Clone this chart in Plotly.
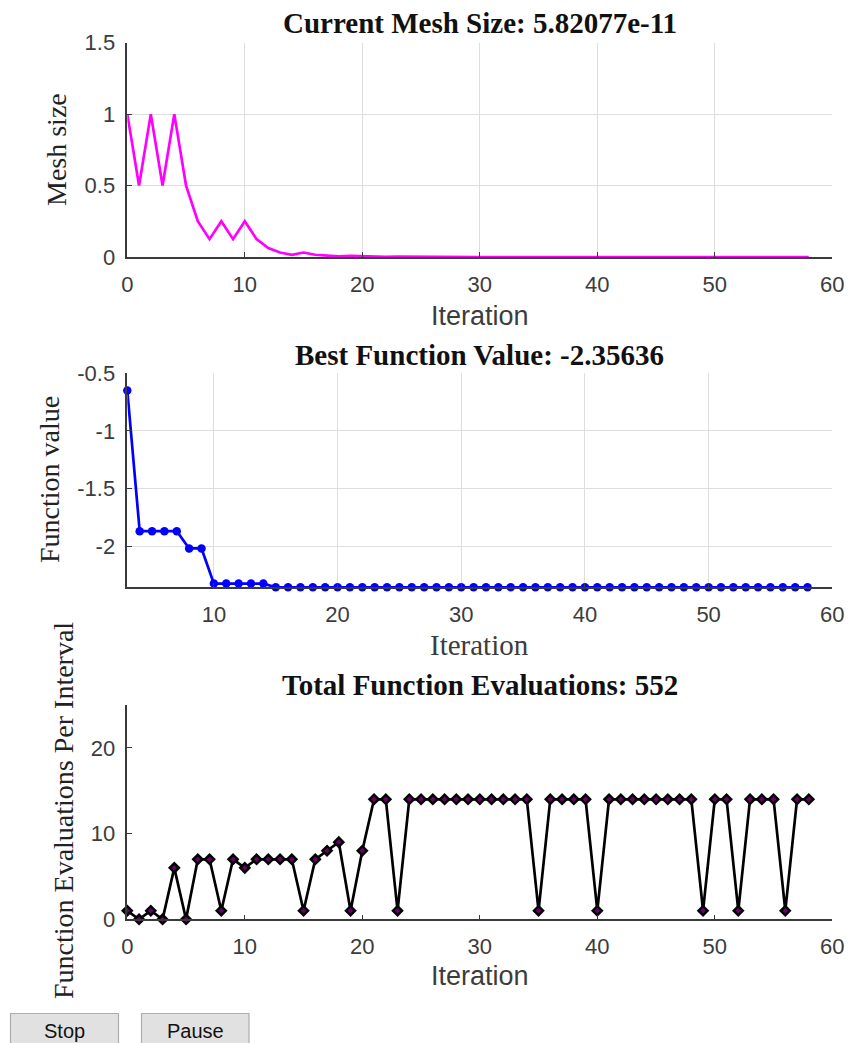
import plotly.graph_objects as go

# ---------------- data ----------------
iterations = list(range(0, 59))
mesh_size = [1, 0.5, 1, 0.5, 1, 0.5, 0.25, 0.125, 0.25, 0.125,
             0.25, 0.125, 0.0625, 0.03125, 0.015625, 0.03125, 0.015625, 0.0078125, 0.00390625, 0.0078125,
             0.00390625, 0.001953125, 0.0009765625, 0.001953125, 0.0009765625, 4.8828e-4, 2.4414e-4, 1.2207e-4, 6.1035e-5, 3.0518e-5,
             1.5259e-5, 7.6294e-6, 3.8147e-6, 1.9073e-6, 9.5367e-7, 1.9073e-6, 9.5367e-7, 4.7684e-7, 2.3842e-7, 1.1921e-7,
             2.3842e-7, 1.1921e-7, 5.9605e-8, 2.9802e-8, 1.4901e-8, 7.4506e-9, 3.7253e-9, 1.8626e-9, 9.3132e-10, 1.8626e-9,
             9.3132e-10, 4.6566e-10, 9.3132e-10, 4.6566e-10, 2.3283e-10, 1.1642e-10, 2.3283e-10, 1.1642e-10, 5.82077e-11]

best_iter = list(range(3, 59))
best_value = [-0.65, -1.87, -1.87, -1.87, -1.87, -2.02, -2.02,
              -2.325, -2.325, -2.325, -2.325, -2.325] + [-2.35636] * 44

func_evals = [1, 0, 1, 0, 6, 0, 7, 7, 1, 7,
              6, 7, 7, 7, 7, 1, 7, 8, 9, 1,
              8, 14, 14, 1, 14, 14, 14, 14, 14, 14,
              14, 14, 14, 14, 14, 1, 14, 14, 14, 14,
              1, 14, 14, 14, 14, 14, 14, 14, 14, 1,
              14, 14, 1, 14, 14, 14, 1, 14, 14]

x_ticks = [0, 10, 20, 30, 40, 50, 60]
mesh_ticks = [0, 0.5, 1, 1.5]
mesh_ticktext = ["0", "0.5", "1", "1.5"]
best_ticks = [-2, -1.5, -1, -0.5]
best_ticktext = ["-2", "-1.5", "-1", "-0.5"]
eval_ticks = [0, 10, 20]

titles = ["Current Mesh Size: 5.82077e-11",
          "Best Function Value: -2.35636",
          "Total Function Evaluations: 552"]

# ---------------- layout helpers ----------------
W, H = 851, 1043
def fx(p):
    return p / W
def fy(p):
    return 1 - p / H

SANS = "Liberation Sans, Arial, sans-serif"
SERIF = "Liberation Serif, Times New Roman, serif"
TICKCOL = "#3c3c3c"
AXCOL = "#3a3a3a"
GRIDCOL = "#dedede"

xdom = [fx(127.3), fx(832.3)]

fig = go.Figure()

fig.add_trace(go.Scatter(x=iterations, y=mesh_size, mode="lines",
                         line=dict(color="#ff00ff", width=2.7),
                         xaxis="x", yaxis="y", showlegend=False))
fig.add_trace(go.Scatter(x=best_iter, y=best_value, mode="lines+markers",
                         line=dict(color="#0000ff", width=2.7),
                         marker=dict(symbol="circle", size=8.5, color="#0000ff"),
                         xaxis="x2", yaxis="y2", showlegend=False, cliponaxis=False))
fig.add_trace(go.Scatter(x=iterations, y=func_evals, mode="lines+markers",
                         line=dict(color="#000000", width=2.7),
                         marker=dict(symbol="diamond", size=7, color="#6a006a",
                                     line=dict(color="#000000", width=2.5)),
                         xaxis="x3", yaxis="y3", showlegend=False, cliponaxis=False))

common_x = dict(showline=True, linecolor=AXCOL, linewidth=1.5, ticks="inside",
                ticklen=5, tickcolor=AXCOL, tickwidth=1.2,
                tickfont=dict(family=SANS, size=22, color=TICKCOL),
                zeroline=False, domain=xdom, tickvals=x_ticks,
                ticklabelstandoff=7, ticklabeloverflow="allow")
common_y = dict(showline=True, linecolor=AXCOL, linewidth=1.5, ticks="inside",
                ticklen=5, tickcolor=AXCOL, tickwidth=1.2,
                tickfont=dict(family=SANS, size=22, color=TICKCOL),
                zeroline=False, ticklabelstandoff=6, ticklabeloverflow="allow")

fig.update_layout(
    autosize=True, margin=dict(l=0, r=0, t=0, b=0, autoexpand=False),
    paper_bgcolor="white", plot_bgcolor="white",
    xaxis=dict(common_x, range=[0, 60], anchor="y", showgrid=True,
               gridcolor=GRIDCOL, gridwidth=1),
    yaxis=dict(common_y, range=[0, 1.5], anchor="x", domain=[fy(257), fy(42.7)],
               tickvals=mesh_ticks, ticktext=mesh_ticktext, showgrid=True,
               gridcolor=GRIDCOL, gridwidth=1),
    xaxis2=dict(common_x, range=[3, 60], anchor="y2", showgrid=True,
                gridcolor=GRIDCOL, gridwidth=1, tickvals=x_ticks[1:]),
    yaxis2=dict(common_y, range=[-2.357, -0.5], anchor="x2", domain=[fy(587.3), fy(373.3)],
                tickvals=best_ticks, ticktext=best_ticktext, showgrid=True,
                gridcolor=GRIDCOL, gridwidth=1),
    xaxis3=dict(common_x, range=[0, 60], anchor="y3", showgrid=False),
    yaxis3=dict(common_y, range=[0, 25], anchor="x3", domain=[fy(919.3), fy(705)],
                tickvals=eval_ticks, showgrid=False),
)

ann = []
cx = fx(479.8)
for t, yc in zip(titles, [23, 355, 685]):
    ann.append(dict(text="<b>%s</b>" % t, x=cx, y=fy(yc), xref="paper", yref="paper",
                    xanchor="center", yanchor="middle", showarrow=False,
                    font=dict(family=SERIF, size=29, color="#111111")))
# x axis titles
ann.append(dict(text="Iteration", x=cx, y=fy(316), xref="paper", yref="paper",
                xanchor="center", yanchor="middle", showarrow=False,
                font=dict(family=SANS, size=27, color=TICKCOL)))
ann.append(dict(text="Iteration", x=cx, y=fy(645), xref="paper", yref="paper",
                xanchor="center", yanchor="middle", showarrow=False,
                font=dict(family=SERIF, size=29, color=TICKCOL)))
ann.append(dict(text="Iteration", x=cx, y=fy(976), xref="paper", yref="paper",
                xanchor="center", yanchor="middle", showarrow=False,
                font=dict(family=SANS, size=27, color=TICKCOL)))
# y axis titles
for t, xc, yc in [("Mesh size", 57, 150), ("Function value", 49, 480),
                  ("Function Evaluations Per Interval", 63, 811)]:
    ann.append(dict(text=t, x=fx(xc), y=fy(yc), xref="paper", yref="paper",
                    xanchor="center", yanchor="middle", textangle=-90, showarrow=False,
                    font=dict(family=SERIF, size=28, color="#222222")))
# buttons
shapes = []
for label, x0, x1 in [("Stop", 10.5, 118.5), ("Pause", 141.5, 249)]:
    shapes.append(dict(type="rect", xref="paper", yref="paper",
                       x0=fx(x0), x1=fx(x1), y0=fy(1046), y1=fy(1013.5),
                       fillcolor="#e1e1e1", line=dict(color="#adadad", width=1.2)))
    ann.append(dict(text=label, x=fx((x0 + x1) / 2), y=fy(1031), xref="paper", yref="paper",
                    xanchor="center", yanchor="middle", showarrow=False,
                    font=dict(family=SANS, size=20, color="#111111")))

fig.update_layout(annotations=ann, shapes=shapes)
fig.write_html(
    "out.html",
    default_width="100vw", default_height="100vh",
    post_script=("document.documentElement.style.margin='0';"
                 "document.documentElement.style.overflow='hidden';"
                 "document.body.style.margin='0';document.body.style.padding='0';"
                 "document.body.style.overflow='hidden';"),
)
